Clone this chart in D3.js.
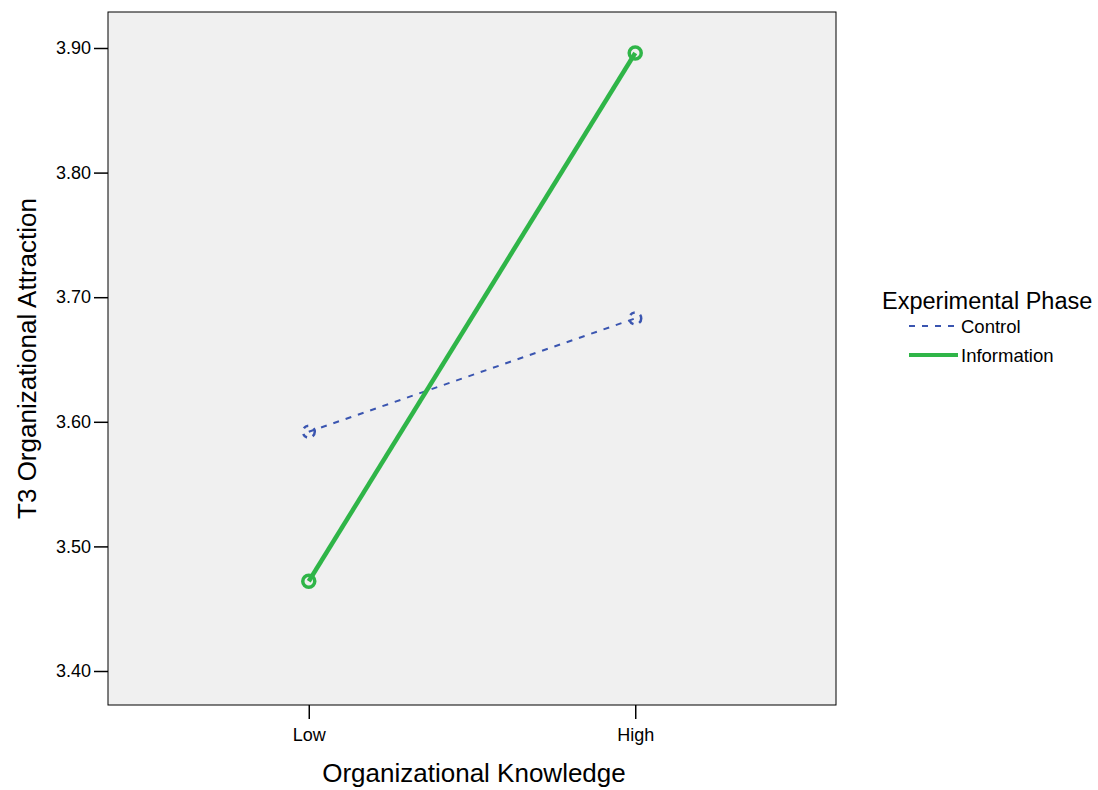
<!DOCTYPE html>
<html>
<head>
<meta charset="utf-8">
<script src="https://cdn.jsdelivr.net/npm/d3@7"></script>
<style>
  body { margin: 0; background: #fff; }
  text { font-family: "Liberation Sans", Arial, sans-serif; fill: #000; }
</style>
</head>
<body>
<svg id="chart"></svg>
<script>
const d3 = window.d3

// data
const levels = ['Low', 'High']
const controlValues = [3.592, 3.683]
const informationValues = [3.472, 3.896]
const yTicks = [3.40, 3.50, 3.60, 3.70, 3.80, 3.90]
const seriesNames = ['Control', 'Information']

const width = 1098
const height = 790
const frame = {left: 108, right: 836, top: 12, bottom: 705}
const font = '"Liberation Sans", Arial, sans-serif'

const svg = d3.select('#chart').attr('width', width).attr('height', height)

const x = d3.scalePoint().domain(levels).range([frame.left, frame.right]).padding(0.615)
// 3.40 -> 671, 3.90 -> 48
const y = d3.scaleLinear().domain([3.40, 3.90]).range([671, 48])

svg.append('rect')
  .attr('x', frame.left).attr('y', frame.top)
  .attr('width', frame.right - frame.left).attr('height', frame.bottom - frame.top)
  .attr('fill', '#f0f0f0').attr('stroke', '#000').attr('stroke-width', 1)

// y axis
const yAxis = svg.append('g')
  .attr('transform', `translate(${frame.left},0)`)
  .call(d3.axisLeft(y).tickValues(yTicks).tickFormat(d3.format('.2f')).tickSize(14).tickPadding(3))
yAxis.select('.domain').remove()
yAxis.selectAll('line').attr('stroke', '#000').attr('stroke-width', 1.5)
yAxis.selectAll('text').style('font-size', '18px').style('font-family', font)

// x axis
const xAxis = svg.append('g')
  .attr('transform', `translate(0,${frame.bottom})`)
  .call(d3.axisBottom(x).tickSize(14).tickPadding(9))
xAxis.select('.domain').remove()
xAxis.selectAll('line').attr('stroke', '#000').attr('stroke-width', 1.5)
xAxis.selectAll('text').style('font-size', '18px').style('font-family', font)

// axis titles
svg.append('text')
  .attr('x', 474).attr('y', 782)
  .attr('text-anchor', 'middle').style('font-size', '26px')
  .text('Organizational Knowledge')

svg.append('text')
  .attr('transform', `translate(36,${(frame.top + frame.bottom) / 2}) rotate(-90)`)
  .attr('text-anchor', 'middle').style('font-size', '26px')
  .text('T3 Organizational Attraction')

const line = d3.line().x((d, i) => x(levels[i])).y(d => y(d))

const styles = {
  Control: {color: '#3a55b0', width: 2, dash: '6,7', r: 6},
  Information: {color: '#2fb548', width: 4.5, dash: null, r: 6}
}

const seriesData = {Control: controlValues, Information: informationValues}

seriesNames.forEach(name => {
  const s = styles[name]
  const values = seriesData[name]
  svg.append('path')
    .datum(values)
    .attr('d', line)
    .attr('fill', 'none')
    .attr('stroke', s.color)
    .attr('stroke-width', s.width)
    .attr('stroke-dasharray', s.dash)

  svg.selectAll(`.pt-${name}`)
    .data(values)
    .enter().append('circle')
    .attr('class', `pt-${name}`)
    .attr('cx', (d, i) => x(levels[i]))
    .attr('cy', d => y(d))
    .attr('r', s.r)
    .attr('fill', 'none')
    .attr('stroke', s.color)
    .attr('stroke-width', name === 'Control' ? 2.5 : 3.5)
    .attr('stroke-dasharray', name === 'Control' ? '5,6' : null)
})

// legend
const legend = svg.append('g')
svg.append('text')
  .attr('x', 882).attr('y', 309)
  .style('font-size', '23.5px')
  .text('Experimental Phase')

seriesNames.forEach((name, i) => {
  const s = styles[name]
  const ly = 326 + i * 29
  legend.append('line')
    .attr('x1', 909).attr('x2', 958)
    .attr('y1', ly).attr('y2', ly)
    .attr('stroke', s.color)
    .attr('stroke-width', name === 'Control' ? 2 : 4)
    .attr('stroke-dasharray', s.dash)
  legend.append('text')
    .attr('x', 961).attr('y', ly + 7)
    .style('font-size', '18.5px')
    .text(name)
})
</script>
</body>
</html>
